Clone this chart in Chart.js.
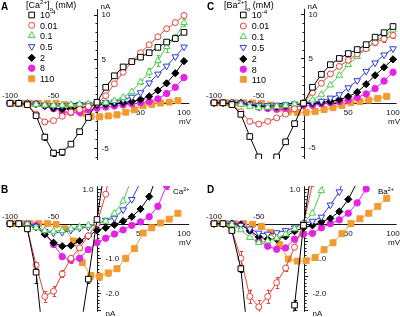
<!DOCTYPE html>
<html><head><meta charset="utf-8">
<script src="https://cdn.jsdelivr.net/npm/chart.js@4.4.1/dist/chart.umd.min.js"></script>
<style>
html,body{margin:0;padding:0;background:#fff;}
#wrap{position:relative;width:400px;height:317px;overflow:hidden;background:#fff;}
canvas{position:absolute;left:0;top:0;}
</style></head><body>
<div id="wrap">
<canvas id="cA" width="400" height="317"></canvas>
<canvas id="cB" width="400" height="317"></canvas>
<canvas id="cC" width="400" height="317"></canvas>
<canvas id="cD" width="400" height="317"></canvas>
</div>
<script>
// ---------- data ----------
const voltages    = [-100,-90,-80,-70,-60,-50,-40,-30,-20,-10,0,10,20,30,40,50,60,70,80,90,100];
const voltages110 = [-97,-87,-77,-67,-57,-47,-37,-27,-17,-7,3,13,23,33,43,53,63,73,83,93];
const legendLabels = ['10{^-4}','0.01','0.1','0.5','2','8','110'];

// [Ca2+]o series (nA) - panels A and B
const ca_1e4 = [0,0,-0.15,-1.4,-3.8,-5.6,-5.5,-4.6,-3.2,-1.6,0.12,1.8,3.1,4.1,4.7,5.2,5.7,6.3,6.9,7.3,8.0];
const ca_001 = [0,0,-0.15,-1.2,-2.1,-1.95,-1.45,-1.0,-0.7,-0.35,0,0.85,2.2,3.5,4.7,5.7,6.6,7.5,8.4,9.1,9.9];
const ca_01  = [0,0,-0.02,-0.12,-0.2,-0.22,-0.2,-0.15,-0.1,-0.05,0,0.07,0.3,0.65,1.3,2.4,3.5,4.8,6.4,7.4,9.1];
const ca_05  = [0,0,0,-0.08,-0.22,-0.27,-0.25,-0.19,-0.13,-0.1,-0.02,0.1,0.16,0.4,0.7,1.2,2.3,3.3,4.2,5.25,6.35];
const ca_2   = [0,0,-0.02,-0.1,-0.31,-0.55,-0.65,-0.63,-0.5,-0.36,-0.19,-0.12,-0.03,0.07,0.2,0.42,0.78,1.45,2.25,3.4,4.75];
const ca_8   = [0,0,0,-0.05,-0.25,-0.6,-0.95,-1.05,-1.0,-0.75,-0.55,-0.42,-0.3,-0.18,-0.05,0.05,0.2,0.5,1.1,1.8,2.9];
const ca_110 = [0,0,0,0,0,-0.02,-0.15,-0.5,-1.12,-1.5,-1.52,-1.42,-1.3,-1.0,-0.72,-0.27,-0.12,0.02,0.13,0.3];

const ca_1e4_err = [0,0,0,0.3,0.35,0.3,0.3,0.2,0.15,0.1,0,0,0,0,0,0,0,0,0,0.3,0];
const ca_001_err = [0,0,0,0.08,0.15,0.15,0.1,0.08,0.05,0,0,0,0,0,0,0,0,0,0,0,0];
const ca_01_err  = [0,0,0,0,0,0,0,0,0,0,0,0,0,0,0,0.2,0.5,0.6,0.6,0.4,0.4];
const ca_8_err   = [0,0,0,0,0.04,0.06,0.08,0.08,0.06,0,0,0,0,0,0,0,0,0,0.1,0.1,0.15];
const ca_110_err = [0,0,0,0,0,0,0,0.05,0.08,0.1,0.1,0.08,0.08,0.08,0.06,0,0,0,0,0];

// [Ba2+]o series (nA) - panels C and D
const ba_1e4 = [0,0,-0.2,-1.3,-3.8,-6.1,-7.0,-6.1,-4.4,-2.35,-0.05,1.75,3.2,4.3,5.0,5.55,6.0,6.55,7.4,7.9,8.6];
const ba_001 = [0,0,-0.2,-1.0,-2.1,-2.4,-2.1,-1.7,-1.28,-0.68,0,1.15,2.2,3.25,4.1,4.8,5.5,6.1,6.8,7.2,7.6];
const ba_01  = [0,0,-0.03,-0.18,-0.4,-0.55,-0.5,-0.42,-0.3,-0.15,0.02,0.3,0.95,2.0,3.1,4.3,5.2,6.1,6.9,7.5,8.2];
const ba_05  = [0,0,0,-0.05,-0.15,-0.27,-0.3,-0.26,-0.2,-0.12,0,0.07,0.19,0.54,0.92,1.7,2.5,3.55,4.5,5.4,6.1];
const ba_2   = [0,0,0,-0.03,-0.2,-0.38,-0.45,-0.45,-0.37,-0.22,-0.12,-0.05,0.05,0.15,0.35,0.7,1.2,2.1,3.1,4.0,4.9];
const ba_8   = [0,0,0,-0.02,-0.2,-0.5,-0.65,-0.74,-0.7,-0.45,-0.3,-0.28,-0.12,0,0.11,0.3,0.6,1.0,1.6,2.45,3.45];
const ba_110 = [0,0,0,0,-0.02,-0.08,-0.25,-0.6,-1.02,-1.08,-1.07,-0.98,-0.75,-0.55,-0.29,0,0.14,0.3,0.5,0.73];

const ba_1e4_err = [0,0,0,0.1,0,0,0,0,0,0.15,0,0,0,0,0,0,0,0,0,0.2,0.3];
const ba_001_err = [0,0,0,0.2,0.2,0.2,0.2,0.15,0.1,0,0,0,0,0,0,0,0,0,0.3,0.4,0.3];
const ba_110_err = [0,0,0,0,0,0,0,0,0.06,0.05,0,0,0,0,0,0,0,0,0,0];

// ---------- styles ----------
const FONT = '"Liberation Sans", Arial, Helvetica, sans-serif';
const seriesStyles = [
  {color:'#000000', style:'rect',     radius:4.0, fill:'#ffffff', rot:0},
  {color:'#e5443b', style:'circle',   radius:3.0, fill:'#ffffff', rot:0},
  {color:'#46d046', style:'triangle', radius:3.8, fill:'#ffffff', rot:0},
  {color:'#2e3ed2', style:'triangle', radius:3.8, fill:'#ffffff', rot:180},
  {color:'#000000', style:'rectRot',  radius:3.6, fill:'#000000', rot:0},
  {color:'#e622e6', style:'circle',   radius:3.2, fill:'#e622e6', rot:0},
  {color:'#f29a30', style:'rect',     radius:4.2, fill:'#f29a30', rot:0}
];

function parseRich(s){
  const out=[]; const re=/\{([\^_])([^}]*)\}/g; let last=0, m;
  while((m=re.exec(s))){ if(m.index>last) out.push({t:s.slice(last,m.index),k:''}); out.push({t:m[2],k:m[1]}); last=re.lastIndex; }
  if(last<s.length) out.push({t:s.slice(last),k:''});
  return out;
}
function drawRich(ctx, s, x, y, size, align, weight){
  const segs=parseRich(s); let w=0; weight=weight||'';
  segs.forEach(g=>{ g.sz=g.k?size*0.68:size; ctx.font=weight+' '+g.sz+'px '+FONT; g.w=ctx.measureText(g.t).width; w+=g.w; });
  let cx = align==='center'? x-w/2 : (align==='right'? x-w : x);
  ctx.textAlign='left'; ctx.textBaseline='alphabetic';
  const base=y+size*0.36;
  segs.forEach(g=>{ ctx.font=weight+' '+g.sz+'px '+FONT; const dy=g.k==='^'?-size*0.42:(g.k==='_'?size*0.28:0); ctx.fillText(g.t,cx,base+dy); cx+=g.w; });
}
function drawMarker(ctx, st, x, y){
  ctx.save(); ctx.beginPath(); ctx.lineWidth=1; ctx.strokeStyle=st.color; ctx.fillStyle=st.fill;
  const r=st.radius; let rad=st.rot*Math.PI/180;
  if(st.style==='circle'){ ctx.arc(x,y,r,0,Math.PI*2); }
  else if(st.style==='rect'){ const s=Math.SQRT1_2*r; ctx.rect(x-s,y-s,2*s,2*s); }
  else if(st.style==='rectRot'){ ctx.moveTo(x,y-r); ctx.lineTo(x+r,y); ctx.lineTo(x,y+r); ctx.lineTo(x-r,y); ctx.closePath(); }
  else if(st.style==='triangle'){ for(let i=0;i<3;i++){ const px=x+Math.sin(rad)*r, py=y-Math.cos(rad)*r; if(i===0) ctx.moveTo(px,py); else ctx.lineTo(px,py); rad+=2*Math.PI/3; } ctx.closePath(); }
  ctx.fill(); ctx.stroke(); ctx.restore();
}

// ---------- panels ----------
const panels = [
  {id:'A', canvas:'cA', series:[ca_1e4,ca_001,ca_01,ca_05,ca_2,ca_8,ca_110],
   errs:[ca_1e4_err,ca_001_err,ca_01_err,null,null,ca_8_err,ca_110_err],
   area:{left:10,right:184,top:3,bottom:160}, y0:102.5, ppu:9,
   xAxis:[-101,106], yTop:10.6, yMinor:1, yMajorEvery:5, tickSide:-1,
   xLabels:[{v:-100,t:'-100',pos:-1},{v:-50,t:'-50',pos:-1},{v:50,t:'50',pos:1},{v:100,t:'100',pos:1}],
   yLabels:[{v:10,t:'10',side:1},{v:5,t:'5',side:1},{v:-5,t:'-5',side:1}], yLabOff:4,
   nA:{dx:3, where:'top'}, letter:{t:'A',x:1,y:6},
   legend:{title:'[Ca{^2+}]{_o} (mM)', titleX:26, titleY:5, markerX:31.7, textX:40, rows:[15,25.3,35.5,46.5,57.8,68.2,78.8]}},
  {id:'B', canvas:'cB', series:[ca_1e4,ca_001,ca_01,ca_05,ca_2,ca_8,ca_110],
   errs:[ca_1e4_err,ca_001_err,ca_01_err,null,null,ca_8_err,ca_110_err],
   area:{left:10,right:184,top:186,bottom:313}, y0:224, ppu:35,
   xAxis:[-101,106], yTop:1.08, yMinor:0.1, yMajorEvery:5, tickSide:1,
   xLabels:[{v:-100,t:'-100',pos:-1},{v:-50,t:'-50',pos:-1},{v:50,t:'50',pos:1},{v:100,t:'100',pos:1}],
   yLabels:[{v:1,t:'1.0',side:-1},{v:-1,t:'-1.0',side:1},{v:-2,t:'-2.0',side:1}], yLabOff:8,
   nA:{dx:8, where:'bottom'}, letter:{t:'B',x:1,y:189}, ion:{t:'Ca{^2+}',x:173,y:191}},
  {id:'C', canvas:'cC', series:[ba_1e4,ba_001,ba_01,ba_05,ba_2,ba_8,ba_110],
   errs:[ba_1e4_err,ba_001_err,null,null,null,null,ba_110_err],
   area:{left:214,right:393,top:3,bottom:159}, y0:102, ppu:9,
   xAxis:[-101,104], yTop:10.6, yMinor:1, yMajorEvery:5, tickSide:-1,
   xLabels:[{v:-100,t:'-100',pos:-1},{v:-50,t:'-50',pos:-1},{v:50,t:'50',pos:1},{v:100,t:'100',pos:1}],
   yLabels:[{v:10,t:'10',side:1},{v:5,t:'5',side:1},{v:-5,t:'-5',side:1}], yLabOff:4,
   nA:{dx:3, where:'top'}, letter:{t:'C',x:207,y:6},
   legend:{title:'[Ba{^2+}]{_o} (mM)', titleX:224, titleY:5, markerX:243.3, textX:251.7, rows:[15,26,36.7,47.3,59,69.3,79.3]}},
  {id:'D', canvas:'cD', series:[ba_1e4,ba_001,ba_01,ba_05,ba_2,ba_8,ba_110],
   errs:[ba_1e4_err,ba_001_err,null,null,null,null,ba_110_err],
   area:{left:214,right:393,top:186,bottom:313}, y0:224, ppu:35,
   xAxis:[-101,104], yTop:1.08, yMinor:0.1, yMajorEvery:5, tickSide:1,
   xLabels:[{v:-100,t:'-100',pos:-1},{v:-50,t:'-50',pos:-1},{v:50,t:'50',pos:1},{v:100,t:'100',pos:1}],
   yLabels:[{v:1,t:'1.0',side:-1},{v:-1,t:'-1.0',side:1},{v:-2,t:'-2.0',side:1}], yLabOff:8,
   nA:{dx:8, where:'bottom'}, letter:{t:'D',x:207,y:189}, ion:{t:'Ba{^2+}',x:378,y:191}}
];

function makeDecor(p){
  return {
    id:'decor'+p.id,
    beforeDatasetsDraw(chart){
      const ctx=chart.ctx, xs=chart.scales.x, ys=chart.scales.y, ca=chart.chartArea;
      const X=v=>xs.getPixelForValue(v), Y=v=>ys.getPixelForValue(v);
      const x0=Math.round(X(0))+0.5, y0=Math.round(Y(0))+0.5;
      const yBot=ys.min;
      ctx.save();
      ctx.strokeStyle='#1a1a1a'; ctx.lineWidth=1;
      ctx.beginPath();
      ctx.moveTo(X(p.xAxis[0]),y0); ctx.lineTo(X(p.xAxis[1]),y0);
      ctx.moveTo(x0,Y(p.yTop)); ctx.lineTo(x0,ca.bottom);
      const kmin=Math.ceil(yBot/p.yMinor-1e-6), kmax=Math.floor(p.yTop/p.yMinor+1e-6);
      for(let k=kmin;k<=kmax;k++){
        const len=(k%p.yMajorEvery===0)?3.5:2;
        const py=Math.round(Y(k*p.yMinor))+0.5;
        ctx.moveTo(x0,py); ctx.lineTo(x0+p.tickSide*len,py);
      }
      ctx.stroke();
      // error bars
      ctx.save(); ctx.beginPath(); ctx.rect(ca.left-6,ca.top,ca.right-ca.left+12,ca.bottom-ca.top); ctx.clip();
      p.errs.forEach((e,i)=>{
        if(!e) return;
        const meta=chart.getDatasetMeta(i), vals=p.series[i];
        ctx.strokeStyle=seriesStyles[i].color; ctx.lineWidth=1; ctx.beginPath();
        meta.data.forEach((pt,j)=>{
          if(!e[j]) return;
          const px=Math.round(pt.x)+0.5, t=Y(vals[j]+e[j]), b=Y(vals[j]-e[j]);
          ctx.moveTo(px,t); ctx.lineTo(px,b);
          ctx.moveTo(px-1.8,Math.round(t)+0.5); ctx.lineTo(px+1.8,Math.round(t)+0.5);
          ctx.moveTo(px-1.8,Math.round(b)+0.5); ctx.lineTo(px+1.8,Math.round(b)+0.5);
        });
        ctx.stroke();
      });
      ctx.restore();
      // tick labels
      ctx.fillStyle='#111';
      p.xLabels.forEach(l=>{ drawRich(ctx,l.t,X(l.v),y0+(l.pos<0?-8:8.5),8,'center'); });
      drawRich(ctx,'mV',X(100)+1,y0+18,8,'center');
      p.yLabels.forEach(l=>{ drawRich(ctx,l.t, l.side>0? x0+p.yLabOff : x0-4, Y(l.v), 8, l.side>0?'left':'right'); });
      if(p.nA.where==='top') drawRich(ctx,'nA',x0+p.nA.dx,3.5+ca.top-3,8,'left');
      else drawRich(ctx,'nA',x0+p.nA.dx,ca.bottom+1,8,'left');
      ctx.restore();
    },
    afterDraw(chart){
      const ctx=chart.ctx; ctx.save(); ctx.fillStyle='#000';
      drawRich(ctx,p.letter.t,p.letter.x,p.letter.y,10,'left','bold');
      if(p.ion) drawRich(ctx,p.ion.t,p.ion.x,p.ion.y,8,'left');
      if(p.legend){
        const L=p.legend;
        drawRich(ctx,L.title,L.titleX,L.titleY,9,'left');
        legendLabels.forEach((t,i)=>{
          drawMarker(ctx,seriesStyles[i],L.markerX,L.rows[i]);
          ctx.fillStyle='#000';
          drawRich(ctx,t,L.textX,L.rows[i],9,'left');
        });
      }
      ctx.restore();
    }
  };
}

panels.forEach(p=>{
  const a=p.area;
  const yMax=(p.y0-a.top)/p.ppu, yMin=-(a.bottom-p.y0)/p.ppu;
  const datasets=p.series.map((arr,i)=>{
    const st=seriesStyles[i];
    const xv = (i===6)? voltages110 : voltages;
    return {
      data: xv.map((v,j)=>({x:v,y:arr[j]})),
      borderColor:st.color, backgroundColor:st.fill, borderWidth:1,
      pointStyle:st.style, pointRadius:st.radius, pointHoverRadius:st.radius, pointRotation:st.rot,
      pointBorderColor:st.color, pointBackgroundColor:st.fill, pointBorderWidth:1,
      tension:0, fill:false, clip:{left:6,right:6,top:0,bottom:0}
    };
  });
  new Chart(document.getElementById(p.canvas),{
    type:'line',
    data:{datasets},
    options:{
      responsive:false, animation:false, devicePixelRatio:1, events:[],
      layout:{padding:{left:a.left,top:a.top,right:400-a.right,bottom:317-a.bottom}},
      scales:{
        x:{type:'linear',min:-100,max:100,display:false},
        y:{type:'linear',min:yMin,max:yMax,display:false}
      },
      plugins:{legend:{display:false},tooltip:{enabled:false}}
    },
    plugins:[makeDecor(p)]
  });
});
</script>
</body></html>
